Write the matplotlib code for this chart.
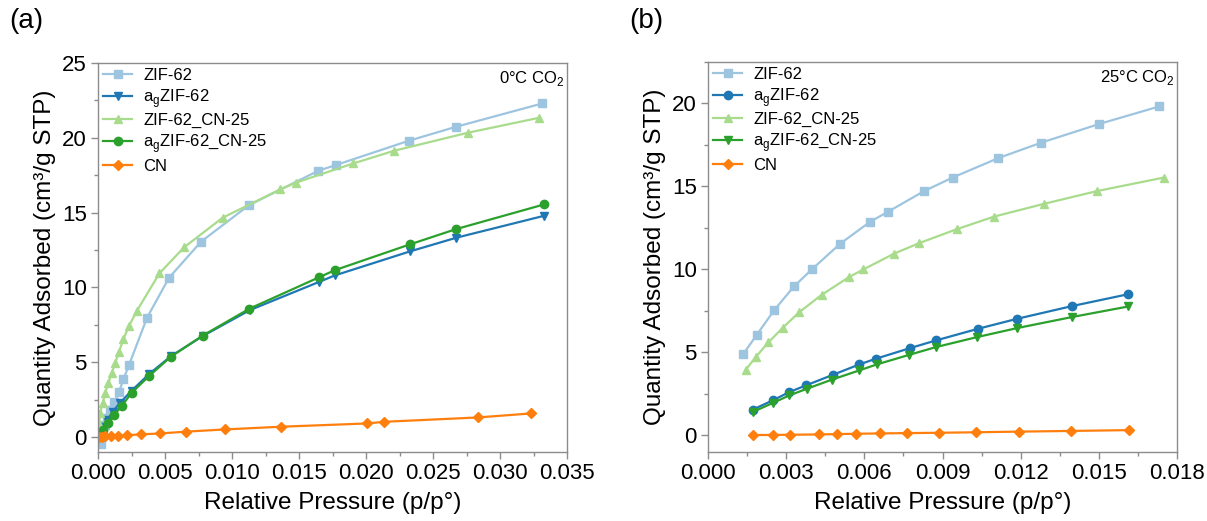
import matplotlib
matplotlib.use("Agg")
import matplotlib.pyplot as plt
from matplotlib.ticker import MultipleLocator

plt.rcParams['font.family'] = ['Liberation Sans', 'DejaVu Sans']
plt.rcParams['mathtext.fontset'] = 'custom'
plt.rcParams['mathtext.rm'] = 'Liberation Sans'

# ---- panel (a): 0 °C CO2 ----
a_zif_x = [0.0002, 0.0003, 0.0005, 0.0007, 0.0009, 0.00122, 0.00157, 0.00189, 0.00231, 0.00366,
           0.0053, 0.00769, 0.01125, 0.01644, 0.01774, 0.02321, 0.02672, 0.03316]
a_zif_y = [-0.45, 0.2, 0.8, 1.3, 1.8, 2.36, 3.03, 3.85, 4.81, 7.98,
           10.65, 13.06, 15.49, 17.8, 18.18, 19.81, 20.74, 22.3]

a_agzif_x = [0.00017, 0.0004, 0.0007, 0.0011, 0.00164, 0.00251, 0.00381, 0.00545, 0.00781,
             0.01134, 0.01647, 0.01769, 0.02328, 0.02672, 0.03329]
a_agzif_y = [0.25, 0.69, 1.14, 1.69, 2.29, 3.10, 4.21, 5.41, 6.75,
             8.49, 10.36, 10.81, 12.41, 13.32, 14.79]

a_zifcn_x = [0.0001, 0.00015, 0.00035, 0.00052, 0.00077, 0.00102, 0.00127, 0.00157, 0.00189,
             0.00231, 0.00289, 0.00458, 0.00642, 0.0093, 0.01358, 0.01475, 0.01905, 0.02211,
             0.02759, 0.03291]
a_zifcn_y = [0.9, 1.6, 2.25, 2.92, 3.59, 4.26, 4.92, 5.70, 6.53,
             7.42, 8.42, 10.94, 12.68, 14.66, 16.55, 17.0, 18.29, 19.14,
             20.34, 21.34]

a_agzifcn_x = [0.00017, 0.0004, 0.00077, 0.0012, 0.00177, 0.00251, 0.00381, 0.00545, 0.00781,
               0.0113, 0.01647, 0.01769, 0.02328, 0.02672, 0.03329]
a_agzifcn_y = [0.14, 0.47, 0.91, 1.47, 2.07, 2.96, 4.08, 5.38, 6.78,
               8.58, 10.67, 11.16, 12.88, 13.90, 15.55]

a_cn_x = [0.0001, 0.0003, 0.00055, 0.00096, 0.00147, 0.00214, 0.00319, 0.00465, 0.00654,
          0.00948, 0.01363, 0.0201, 0.02134, 0.02834, 0.03232]
a_cn_y = [0.02, 0.03, 0.05, 0.07, 0.09, 0.12, 0.18, 0.24, 0.36,
          0.51, 0.69, 0.91, 1.02, 1.31, 1.58]

# ---- panel (b): 25 °C CO2 ----
b_zif_x = [0.00136, 0.00187, 0.00255, 0.0033, 0.00398, 0.00507, 0.00622, 0.00692, 0.00829,
           0.00939, 0.01114, 0.01277, 0.01502, 0.01731]
b_zif_y = [4.92, 6.06, 7.57, 8.98, 10.0, 11.55, 12.87, 13.49, 14.72,
           15.54, 16.71, 17.63, 18.77, 19.82]

b_agzif_x = [0.00171, 0.00248, 0.00312, 0.00375, 0.00479, 0.00581, 0.00644, 0.00775, 0.00874,
             0.01037, 0.01187, 0.01396, 0.01613]
b_agzif_y = [1.55, 2.11, 2.61, 3.01, 3.65, 4.28, 4.62, 5.26, 5.72,
             6.43, 7.03, 7.79, 8.51]

b_zifcn_x = [0.00145, 0.00183, 0.00231, 0.00287, 0.00349, 0.00436, 0.00541, 0.00596, 0.00715,
             0.00811, 0.00955, 0.01099, 0.01291, 0.01492, 0.0175]
b_zifcn_y = [3.96, 4.72, 5.60, 6.49, 7.41, 8.47, 9.54, 10.0, 10.96,
             11.59, 12.43, 13.19, 13.96, 14.72, 15.54]

b_agzifcn_x = [0.00171, 0.00248, 0.00312, 0.00379, 0.00475, 0.00581, 0.00648, 0.00773, 0.00874,
               0.01031, 0.01187, 0.01396, 0.01613]
b_agzifcn_y = [1.41, 1.95, 2.41, 2.81, 3.36, 3.92, 4.28, 4.86, 5.32,
               5.92, 6.47, 7.13, 7.77]

b_cn_x = [0.00174, 0.00248, 0.00315, 0.00426, 0.00494, 0.00568, 0.0066, 0.00763, 0.00887,
          0.01029, 0.01195, 0.01392, 0.01617]
b_cn_y = [0.02, 0.03, 0.04, 0.06, 0.08, 0.10, 0.12, 0.14, 0.16,
          0.19, 0.23, 0.27, 0.32]

labels = ["ZIF-62", r"a$_\mathregular{g}$ZIF-62", "ZIF-62_CN-25",
          r"a$_\mathregular{g}$ZIF-62_CN-25", "CN"]
colors = ["#9ec5e0", "#1f77b4", "#a8dc8c", "#2ca02c", "#ff7f0e"]

fig = plt.figure(figsize=(12.07, 5.21), dpi=100)
ax_a = fig.add_axes([0.0812, 0.1324, 0.3886, 0.7466])
ax_b = fig.add_axes([0.5866, 0.1324, 0.3886, 0.7486])

panel_a = [(a_zif_x, a_zif_y, "s"), (a_agzif_x, a_agzif_y, "v"), (a_zifcn_x, a_zifcn_y, "^"),
           (a_agzifcn_x, a_agzifcn_y, "o"), (a_cn_x, a_cn_y, "D")]
panel_b = [(b_zif_x, b_zif_y, "s"), (b_agzif_x, b_agzif_y, "o"), (b_zifcn_x, b_zifcn_y, "^"),
           (b_agzifcn_x, b_agzifcn_y, "v"), (b_cn_x, b_cn_y, "D")]

for ax, series in [(ax_a, panel_a), (ax_b, panel_b)]:
    for (x, y, m), lab, c in zip(series, labels, colors):
        ms = 5 if m == "D" else 6
        ax.plot(x, y, marker=m, color=c, label=lab, lw=1.6, ms=ms)

ax_a.set_xlim(0, 0.035)
ax_a.set_ylim(-1, 25)
ax_a.xaxis.set_major_locator(MultipleLocator(0.005))
ax_a.xaxis.set_minor_locator(MultipleLocator(0.0025))
ax_a.yaxis.set_major_locator(MultipleLocator(5))
ax_a.yaxis.set_minor_locator(MultipleLocator(2.5))
ax_a.xaxis.set_major_formatter(lambda v, p: f"{v:.3f}")

ax_b.set_xlim(0, 0.018)
ax_b.set_ylim(-1, 22.5)
ax_b.xaxis.set_major_locator(MultipleLocator(0.003))
ax_b.xaxis.set_minor_locator(MultipleLocator(0.0015))
ax_b.yaxis.set_major_locator(MultipleLocator(5))
ax_b.yaxis.set_minor_locator(MultipleLocator(2.5))
ax_b.xaxis.set_major_formatter(lambda v, p: f"{v:.3f}")

for ax, note in [(ax_a, r"0°C CO$_\mathregular{2}$"), (ax_b, r"25°C CO$_\mathregular{2}$")]:
    for s in ax.spines.values():
        s.set_color("#8c8c8c")
        s.set_linewidth(1.0)
    ax.tick_params(which="both", direction="out", color="#8c8c8c", labelsize=16, width=1.0, pad=3)
    ax.tick_params(which="major", length=5)
    ax.tick_params(which="minor", length=3)
    ax.set_xlabel("Relative Pressure (p/p°)", fontsize=17.5, labelpad=6)
    ax.set_ylabel("Quantity Adsorbed (cm³/g STP)", fontsize=17.5, labelpad=4)
    ax.legend(loc="upper left", frameon=False, fontsize=12, handlelength=1.75,
              labelspacing=0.22, borderaxespad=0.0, borderpad=0.3, handletextpad=0.65)
    ax.text(0.995, 0.985, note, transform=ax.transAxes, ha="right", va="top", fontsize=12)

fig.text(0.008, 0.985, "(a)", fontsize=20, va="top")
fig.text(0.521, 0.985, "(b)", fontsize=20, va="top")

fig.savefig("out.png", dpi=100)
